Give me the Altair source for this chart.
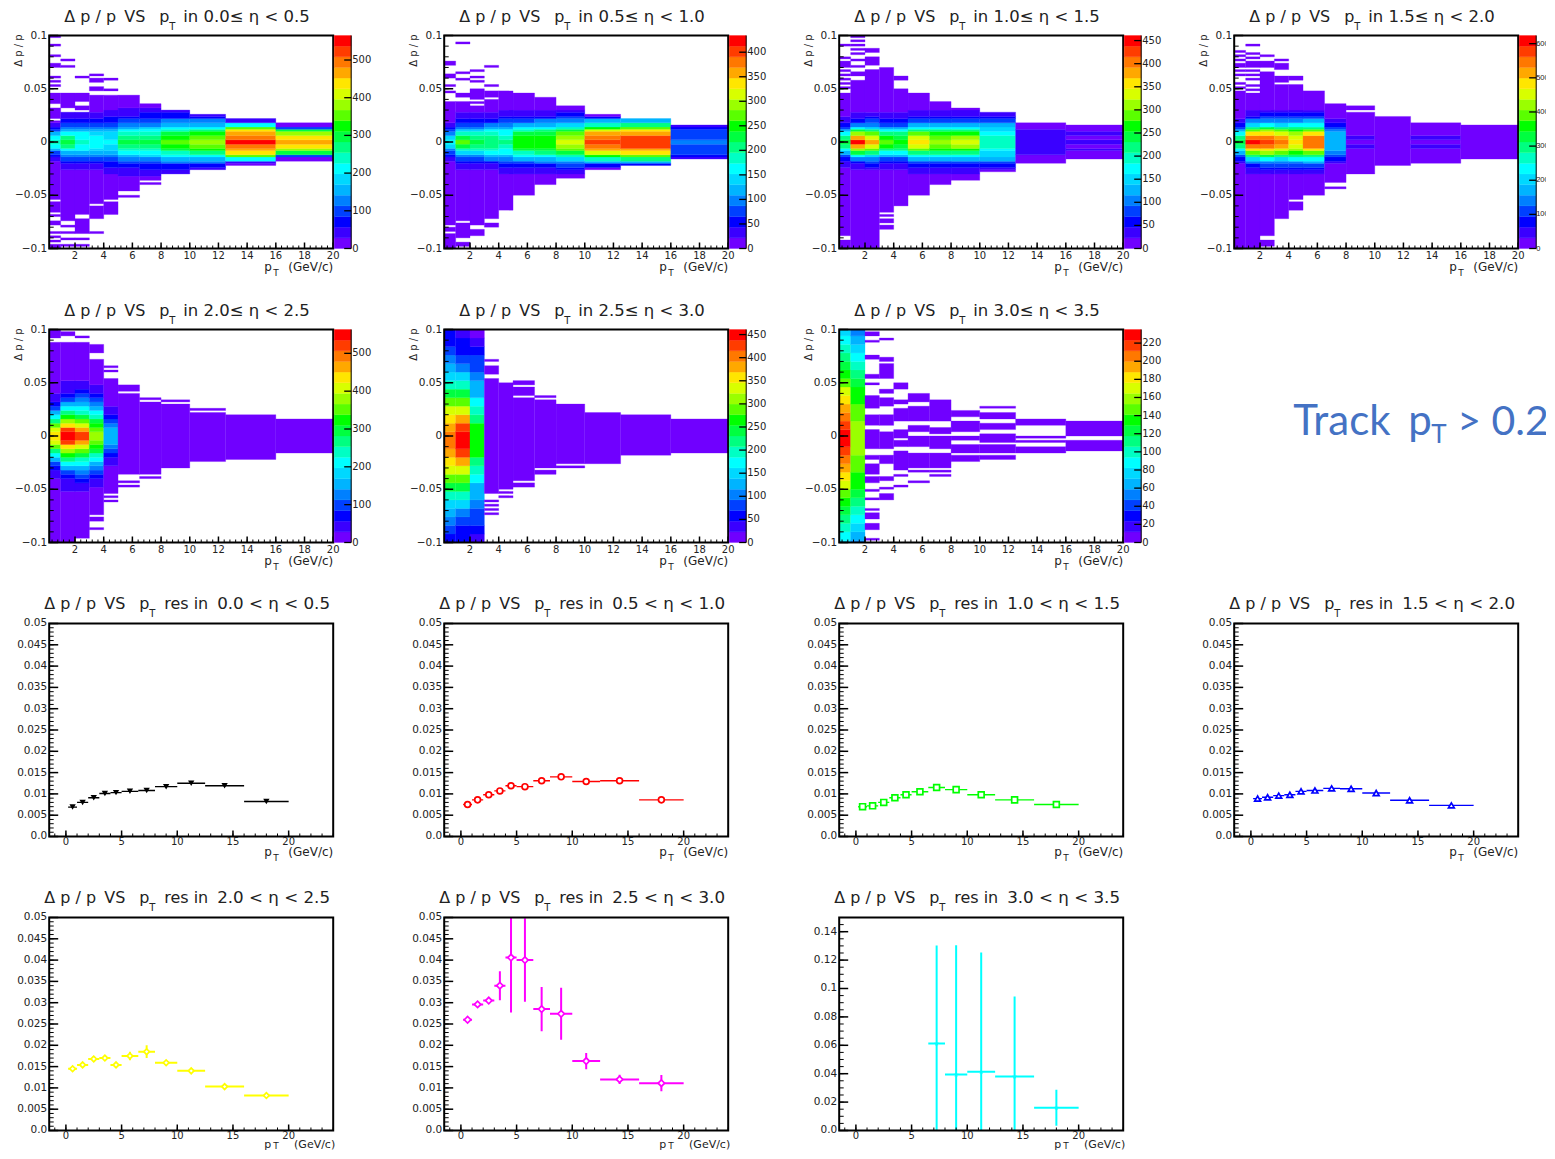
import altair as alt

EDGES = [0.2, 1, 2, 3, 4, 5, 6.5, 8, 10, 12.5, 16, 20]
CENTERS = [0.6, 1.5, 2.5, 3.5, 4.5, 5.75, 7.25, 9, 11.25, 14.25, 18]
PALETTE = ["#7000ff", "#3a00ff", "#0000ff", "#0040ff", "#0080ff", "#00b4ff", "#00d8ff", "#00ffff",
           "#00ffc4", "#00ff80", "#00ff40", "#00ff00", "#5aff00", "#9aff00", "#d8ff00", "#ffe600",
           "#ffa800", "#ff7800", "#ff3c00", "#ff0000"]
RANGES = ["0.0", "0.5", "1.0", "1.5", "2.0", "2.5", "3.0", "3.5"]

# colour level read per pT column, outward from the core; top / bottom of the filled region,
# isolated strips and empty strips
CORE_1 = [[8,7,5,3,2,1],[10,9,7,5,4,3,2,1,1],[8,7,7,5,4,3,2,1,1],[7,7,6,5,4,3,2,1,1],[7,6,6,5,4,3,2,2,1,1],
          [10,9,8,7,5,4,3,2,1,1,1],[10,9,8,7,6,4,3,2,2,1,1],[12,11,10,8,7,5,4,2,2,1],[13,12,11,9,7,5,4,2,1],
          [19,17,16,15,12,7,1],[16,15,13,10,3]]
TOP_1 = [.045,.045,.046,.052,.05,.044,.036,.03,.025,.022,.017]
BOT_1 = [-.066,-.075,-.086,-.072,-.067,-.053,-.041,-.034,-.027,-.023,-.018]
OUT_1 = [[.098,.09,.08,.072,.061,.057,.052,-.07,-.075,-.078,-.085,-.09,-.093,-.097,-.099],
         [.076,.071,-.08,-.085,-.092,-.098],[.061,-.092,-.098],[.062,.059,.056,-.086],[.058],[],[],[],[],[],[]]
GAP_1 = [[[.035,.034],[.02,.02],[-.055,-.056]],[[.03,.03]],[[.037,.035],[.029,.028],[-.07,-.07]],[[.047,.046],[-.06,-.06]],
         [[.047,.046],[-.056,-.056]],[[-.048,-.048]],[[-.037,-.037]],[[-.032,-.032]],[],[],[]]

CORE_2 = [[7,6,4,3,2,1],[12,10,8,6,4,3,2,1,1],[10,9,8,6,4,3,2,1,1],[9,9,8,7,5,4,2,1,1],[9,8,7,7,5,4,3,2,1,1],
          [11,11,10,8,7,5,3,2,1,1],[11,11,10,9,7,5,4,2,1,1],[14,13,12,10,8,6,4,3,2,1],[18,17,16,14,11,8,5,2],
          [18,18,16,15,12,9,5,2],[4,3,3,3,2,1]]
TOP_2 = [.039,.039,.049,.048,.047,.046,.038,.034,.026,.022,.016]
BOT_2 = [-.1,-.098,-.089,-.08,-.064,-.049,-.04,-.034,-.027,-.022,-.016]
OUT_2 = [[.075,.073,.063,.06,.053,.047],[.092,.065,.058,.044],[.066,.06,.057],[.071,.053],[],[],[.04],[],[],[],[]]
GAP_2 = [[[-.085,-.085],[-.079,-.079]],[[-.075,-.075],[-.091,-.092]],[[.036,.035],[.04,.04],[-.08,-.08]],[[.041,.041],[-.074,-.075]],
         [],[],[],[],[],[],[]]

CORE_3 = [[10,9,7,5,3,2,1,1],[19,16,13,10,7,4,2,1,1],[16,14,12,9,6,4,3,2,1],[12,11,9,7,5,3,2,1,1],[11,10,9,7,5,3,2,1,1],
          [15,14,12,9,7,5,3,2,1,1],[13,12,11,9,7,5,3,2,1,1],[14,13,11,9,7,5,3,2,1,1],[8,8,7,6,6,5,3,2,1],
          [1,1,1,1],[1,0,1]]
TOP_3 = [.052,.078,.08,.069,.05,.046,.038,.032,.027,.018,.016]
BOT_3 = [-.1,-.1,-.1,-.081,-.061,-.05,-.04,-.035,-.028,-.021,-.016]
OUT_3 = [[.09,.078,.075,.072,.066,.063,.058,.055],[.098,.095,.09,.086,.082],[.087,.084],[],[.06,.058],[],[],[],[],[],[]]
GAP_3 = [[[.048,.047],[-.089,-.09]],[[.075,.074],[.068,.067],[.06,.059]],[[.07,.07]],[[-.067,-.067],[-.072,-.072],[-.077,-.077]],
         [],[],[],[],[],[],[]]

CORE_4 = [[10,9,7,5,3,2,1],[19,17,15,12,9,6,4,2,1,1],[18,17,15,13,10,7,4,3,2,1],[17,16,14,12,9,6,4,3,2,1],
          [15,14,13,11,9,7,4,3,2,1],[17,17,15,12,9,7,5,3,2,1],[5,5,5,4,3,2,1],[0,1],[0],[0,1],[0]]
TOP_4 = [.048,.045,.066,.062,.053,.042,.036,.027,.023,.018,.015]
BOT_4 = [-.1,-.1,-.098,-.072,-.064,-.05,-.038,-.028,-.023,-.021,-.015]
OUT_4 = [[.085,.08,.077,.073,.07,.066,.062,.055,.05],[.09,.082,.078,.074,.07,.066,.062,.058,.052,.049],[.08,.075,.072],[.076,.072,.068],
         [.061,.058],[.047,.044],[-.043],[.033,.031,-.03],[],[],[]]
GAP_4 = [[],[],[[-.09,-.09]],[[.055,.055]],[[-.056,-.056]],[],[],[],[],[],[]]

CORE_5 = [[15,14,12,9,7,5,3,2,1,1],[19,18,15,13,11,9,7,5,3,2,1,1,1],[18,16,14,12,10,8,7,5,4,3,2,1,1],
          [13,12,11,10,8,7,5,4,3,2,1,1],[5,5,4,3,2,1,1],[0],[0],[0],[0],[0],[0]]
TOP_5 = [.1,.097,.087,.072,.053,.04,.032,.029,.022,.019,.016]
BOT_5 = [-.1,-.1,-.096,-.074,-.055,-.037,-.035,-.029,-.025,-.022,-.015]
OUT_5 = [[],[],[.093],[.085,.082,.08,.078,-.077,-.079,-.088],[.064,.06,-.058,-.061],[.046,.044,-.044,-.048],[.034,-.039],
         [.032],[.025],[],[]]
GAP_5 = [[[.09,.09]],[[.092,.09]],[],[],[],[],[],[],[],[],[]]

CORE_6 = [[17,16,15,14,12,10,8,6,5,4,3,2,2],[19,18,16,14,12,10,8,6,4,3,2,2,1],[11,11,9,8,7,5,5,4,3,3,2,1],
          [0],[0],[0],[0],[0],[0],[0],[0]]
TOP_6 = [.1,.1,.1,.065,.049,.04,.038,.03,.022,.02,.015]
BOT_6 = [-.1,-.1,-.1,-.055,-.05,-.043,-.035,-.03,-.026,-.019,-.015]
OUT_6 = [[],[],[],[.071,-.062,-.066,-.07,-.074],[-.053,-.057],[.05,.048,.044,.042,-.045,-.048],[],[],[],[],[]]
GAP_6 = [[],[],[],[[.056,.055]],[],[[.037,.037]],[[.036,.035],[-.031,-.031]],[[-.027,-.027]],[],[],[]]

CORE_7 = [[19,18,17,16,15,14,12,11,10,9,8,7,6],[13,13,12,12,11,11,10,9,8,7,6,5,4],[0],[0],[0],[0],[0],[0],[0],[0],[0]]
TOP_7 = [.1,.1,.098,.067,.049,.04,.034,.023,.021,.016,.014]
BOT_7 = [-.1,-.1,-.097,-.061,-.032,-.03,-.029,-.025,-.022,-.016,-.014]
OUT_7 = [[],[],[],[.091,.072],[.044,-.038,-.047],[-.034,-.043],[-.033,-.038],[],[.027],[],[]]
GAP_7 = [[],[],
         [[.093,.092],[.087,.08],[.078,.077],[.07,.065],[.062,.06],[.053,.051],[.047,.044],[.041,.039],[.024,.021],[.009,.006],
          [-.013,-.018],[-.024,-.026],[-.037,-.038],[-.046,-.049],[-.054,-.057],[-.062,-.067],[-.071,-.072],[-.079,-.08],[-.089,-.094]],
         [[.052,.046],[.04,.037],[.026,.02],[.008,.005],[-.014,-.016],[-.027,-.037],[-.044,-.046],[-.051,-.053]],
         [[.043,.035],[.029,.027],[.013,.007],[-.003,-.004],[-.012,-.013]],
         [[.03,.029],[.012,.01],[.003,.002],[-.012,-.014]],
         [[.012,.008],[.002,.001],[-.013,-.015]],
         [[.016,.015],[.003,.002],[-.005,-.007],[-.017,-.018]],
         [[.014,.013],[.005,.004],[-.007,-.008],[-.017,-.018]],
         [[.008,.002],[-.003,-.004],[-.008,-.009]],
         [[-.002,-.003]]]

ZMAX = [565, 434, 461, 624, 563, 461, 235]
ZSTEP = [100, 50, 50, 100, 100, 50, 20]
BAND = [.003, .003, .003, .003, .004, .008, .008]
MID = [0, 0, 0, 0, 0, -.004, -.002]
CORES = [CORE_1, CORE_2, CORE_3, CORE_4, CORE_5, CORE_6, CORE_7]
TOPS = [TOP_1, TOP_2, TOP_3, TOP_4, TOP_5, TOP_6, TOP_7]
BOTS = [BOT_1, BOT_2, BOT_3, BOT_4, BOT_5, BOT_6, BOT_7]
OUTS = [OUT_1, OUT_2, OUT_3, OUT_4, OUT_5, OUT_6, OUT_7]
GAPS = [GAP_1, GAP_2, GAP_3, GAP_4, GAP_5, GAP_6, GAP_7]

RES_A = [.0069, .0080, .0091, .0101, .0103, .0106, .0108, .0117, .0125, .0119, .0082]
RES_B = [.0075, .0086, .0098, .0107, .0119, .0117, .0131, .014, .0129, .0131, .0086]
RES_C = [.007, .0072, .008, .0091, .0098, .0105, .0115, .011, .0098, .0086, .0075]
RES_D = [.0089, .0092, .0096, .0098, .0106, .0108, .0113, .0112, .0102, .0085, .0073]
RES_E = [.0145, .0154, .0168, .017, .0154, .0175, .0185, .0159, .014, .0103, .0082]
RES_F = [.026, .0296, .0305, .034, .0406, .04, .0285, .0274, .0163, .012, .0111]
RES_G = [None, None, None, None, None, None, .0612, .0394, .0413, .038, .016]
ERR_A = [.0002] * 11
ERR_B = [.0002] * 11
ERR_C = [.0002] * 11
ERR_D = [.0002, .0002, .0002, .0002, .0002, .0003, .0003, .0003, .0003, .0003, .0003]
ERR_E = [.0004, .0004, .0006, .0006, .0006, .001, .0015, .0006, .0005, .0005, .0004]
ERR_F = [.0004, .0005, .0005, .0034, .0129, .0098, .0052, .0061, .0019, .0011, .0019]
ERR_G = [0, 0, 0, 0, 0, 0, .069, .091, .084, .0563, .0127]
STAR = "M0,-1L.24,-.33L.95,-.31L.38,.12L.59,.81L0,.4L-.59,.81L-.38,.12L-.95,-.31L-.24,-.33Z"
RES = [
    (RES_A, ERR_A, "#000000", "triangle-down", True, 40),
    (RES_B, ERR_B, "#ff0000", "circle", False, 34),
    (RES_C, ERR_C, "#00ff00", "square", False, 34),
    (RES_D, ERR_D, "#0000ff", "triangle-up", False, 34),
    (RES_E, ERR_E, "#ffff00", "diamond", False, 32),
    (RES_F, ERR_F, "#ff00ff", "diamond", False, 42),
    (RES_G, ERR_G, "#00ffff", STAR, True, 30),
]

W, H, BAR_CELL = 284, 213, 111
FONT = "DejaVu Sans"
SMALL = "Liberation Sans"
INK = "#222222"


def label(txt, x, y, size, align="left", angle=0, color=INK, font=FONT):
    return alt.Chart(alt.Data(values=[{"t": txt}])).mark_text(
        align=align, baseline="alphabetic", fontSize=size, font=font, color=color, angle=angle
    ).encode(x=alt.value(x), y=alt.value(y), text="t:N")


def frame(stroke=2, w=W, x0=0):
    return alt.Chart(alt.Data(values=[{}])).mark_rect(filled=False, stroke="black", strokeWidth=stroke).encode(
        x=alt.value(x0), x2=alt.value(w), y=alt.value(0), y2=alt.value(H))


def x_ticks(vals, length, scale, width=1.0):
    return alt.Chart(alt.Data(values=[{"v": v} for v in vals])).mark_rule(color="black", strokeWidth=width).encode(
        x=alt.X("v:Q", scale=scale, axis=None), y=alt.value(H), y2=alt.value(H - length))


def y_ticks(vals, length, scale, width=1.0):
    return alt.Chart(alt.Data(values=[{"v": v} for v in vals])).mark_rule(color="black", strokeWidth=width).encode(
        y=alt.Y("v:Q", scale=scale, axis=None), x=alt.value(0), x2=alt.value(length))


def fmt(v):
    return str(v).replace("-", "\u2212")


def x_labels(vals, scale, dy):
    return alt.Chart(alt.Data(values=[{"v": v, "t": fmt(v)} for v in vals])).mark_text(
        align="center", baseline="middle", fontSize=10, font=FONT, color=INK).encode(
        x=alt.X("v:Q", scale=scale, axis=None), y=alt.value(H + dy), text="t:N")


def y_labels(vals, scale):
    return alt.Chart(alt.Data(values=[{"v": v, "t": fmt(v)} for v in vals])).mark_text(
        align="right", baseline="middle", fontSize=10.5, font=FONT, color=INK).encode(
        y=alt.Y("v:Q", scale=scale, axis=None), x=alt.value(-2), text="t:N")


def xtitle(dy, sub=5, size=12, right=W):
    return [label("p", 215, H + dy, size), label("T", 224, H + dy + sub, 9), label("(GeV/c)", right, H + dy, size, align="right")]


def heat_title(i):
    rng = f"in {RANGES[i]}≤ η < {RANGES[i + 1]}"
    return [label("Δ p / p", 15, -14, 16), label("VS", 75, -14, 16), label("p", 110, -14, 16), label("T", 120, -6, 10),
            label(rng, 134, -14, 16.5)]


def res_title(i):
    return [label("Δ p / p", -5, -14, 16), label("VS", 55, -14, 16), label("p", 90, -14, 16), label("T", 100, -6, 10),
            label("res in", 115, -14, 16), label(f"{RANGES[i]} < η < {RANGES[i + 1]}", 168, -14, 16.7)]


def heat_cells(i):
    recs = []
    z, band, mid = ZMAX[i], BAND[i], MID[i]
    for c in range(11):
        gaps, outs = GAPS[i][c], OUTS[i][c]
        run = None
        for b in range(100):
            lo, hi = -.1 + b * .002, -.1 + (b + 1) * .002
            ctr = (lo + hi) / 2
            on = BOTS[i][c] <= ctr <= TOPS[i][c] or any(lo - 1e-9 <= o < hi for o in outs)
            if any(g[1] - .001 <= ctr <= g[0] + .001 for g in gaps):
                on = False
            lvl = None
            if on:
                k = int(abs(ctr - mid) / band)
                lvl = CORES[i][c][k] if k < len(CORES[i][c]) else 0
            if run and run["l"] == lvl:
                run["y2"] = hi
            else:
                if run and run["l"] is not None:
                    recs.append(run)
                run = {"x": EDGES[c], "x2": EDGES[c + 1], "y": lo, "y2": hi, "l": lvl, "v": 0 if lvl is None else (lvl + .5) * z / 20}
        if run and run["l"] is not None:
            recs.append(run)
    return recs


def heat_panel(i):
    xs = alt.Scale(domain=[.2, 20], nice=False, zero=False)
    ys = alt.Scale(domain=[-.1, .1], nice=False, zero=False)
    cs = alt.Scale(type="quantize", domain=[0, ZMAX[i]], range=PALETTE)
    xm = list(range(2, 21, 2))
    ym = [-.1, -.05, 0, .05, .1]
    rect = alt.Chart(alt.Data(values=heat_cells(i))).mark_rect(strokeWidth=.3).encode(
        x=alt.X("x:Q", scale=xs, axis=None),
        x2="x2:Q",
        y=alt.Y("y:Q", scale=ys, axis=None),
        y2="y2:Q",
        color=alt.Color("v:Q", scale=cs, legend=None),
        stroke=alt.Stroke("v:Q", scale=cs, legend=None),
    )
    layers = [rect, frame(),
              x_ticks([round(.4 * k, 1) for k in range(1, 50)], 3, xs),
              x_ticks(xm, 6, xs, 1.5),
              y_ticks([round(-.1 + .01 * k, 2) for k in range(21)], 4.5, ys),
              y_ticks(ym, 9, ys, 1.5),
              x_labels(xm, xs, 7), y_labels(ym, ys),
              label("Δ p / p", -27, 15, 10, align="center", angle=270)]
    layers += heat_title(i) + xtitle(22.5)
    return alt.layer(*layers).properties(width=W, height=H)


def bar_panel(i, cell, font=FONT, size=10, tx=19):
    z, step = ZMAX[i], ZSTEP[i]
    ys = alt.Scale(domain=[0, z], nice=False, zero=False)
    cs = alt.Scale(type="quantize", domain=[0, z], range=PALETTE)
    seg = [{"y": k * z / 20, "y2": (k + 1) * z / 20, "v": (k + .5) * z / 20} for k in range(20)]
    vals = list(range(0, z + 1, step))
    bar = alt.Chart(alt.Data(values=seg)).mark_rect(strokeWidth=.3).encode(
        x=alt.value(1), x2=alt.value(18),
        y=alt.Y("y:Q", scale=ys, axis=None), y2="y2:Q",
        color=alt.Color("v:Q", scale=cs, legend=None),
        stroke=alt.Stroke("v:Q", scale=cs, legend=None))
    ticks = alt.Chart(alt.Data(values=[{"v": v} for v in vals])).mark_rule(color="black", strokeWidth=1.3).encode(
        y=alt.Y("v:Q", scale=ys, axis=None), x=alt.value(11), x2=alt.value(18))
    text = alt.Chart(alt.Data(values=[{"v": v, "t": str(v)} for v in vals])).mark_text(
        align="left", baseline="middle", fontSize=size, font=font, color=INK).encode(
        y=alt.Y("v:Q", scale=ys, axis=None), x=alt.value(tx), text="t:N")
    edge = alt.Chart(alt.Data(values=[{}])).mark_rule(color="black", strokeWidth=1).encode(
        x=alt.value(18), y=alt.value(0), y2=alt.value(H))
    return alt.layer(bar, ticks, text, edge).properties(width=cell, height=H)


def res_panel(i):
    vals, errs, color, shape, solid, size = RES[i]
    top = .15 if i == 6 else .05
    xs = alt.Scale(domain=[-1.5, 24], nice=False, zero=False)
    ys = alt.Scale(domain=[0, top], nice=False, zero=False)
    rows = [{"x": CENTERS[k], "lo": EDGES[k], "hi": EDGES[k + 1], "y": vals[k],
             "yl": vals[k] - errs[k], "yh": vals[k] + errs[k]} for k in range(11) if vals[k] is not None]
    data = alt.Data(values=rows)
    width = 2 if i >= 4 else 1.4
    if i == 6:
        majors = [round(.02 * k, 2) for k in range(8)]
        minors = [round(.005 * k, 3) for k in range(31)]
    else:
        majors = [round(.005 * k, 3) for k in range(11)]
        minors = [round(.001 * k, 3) for k in range(51)]
    xm = [0, 5, 10, 15, 20]
    hbar = alt.Chart(data).mark_rule(color=color, strokeWidth=width, clip=True).encode(
        x=alt.X("lo:Q", scale=xs, axis=None), x2="hi:Q",
        y=alt.Y("y:Q", scale=ys, axis=None))
    vbar = alt.Chart(data).mark_rule(color=color, strokeWidth=width, clip=True).encode(
        x=alt.X("x:Q", scale=xs, axis=None),
        y=alt.Y("yl:Q", scale=ys, axis=None), y2="yh:Q")
    if solid:
        mark = alt.Chart(data).mark_point(shape=shape, filled=True, color=color, size=size, opacity=1)
    else:
        mark = alt.Chart(data).mark_point(shape=shape, filled=False, fill="white", fillOpacity=1, stroke=color, strokeWidth=1.7, size=size, opacity=1)
    pts = mark.encode(x=alt.X("x:Q", scale=xs, axis=None), y=alt.Y("y:Q", scale=ys, axis=None))
    layers = [hbar, vbar, pts, frame(),
              x_ticks(list(range(-1, 25)), 3, xs),
              x_ticks(xm, 6, xs, 1.5),
              y_ticks(minors, 4.5, ys),
              y_ticks(majors, 9, ys, 1.5),
              x_labels(xm, xs, 5.5), y_labels(majors, ys)]
    layers += res_title(i) + (xtitle(20) if i < 4 else xtitle(17.5, 1.5, 11, W + 2))
    return alt.layer(*layers).properties(width=W, height=H)


def spacer(w):
    return alt.Chart(alt.Data(values=[{}])).mark_point(opacity=0).encode(x=alt.value(0), y=alt.value(0)).properties(width=w, height=H)


BLUE = "#4472c4"
track = alt.layer(
    label("Track", 59, 105, 42, color=BLUE, font="Lato"),
    label("p", 174, 105, 42, color=BLUE, font="Lato"),
    label("T", 197, 113, 26, color=BLUE, font="Lato"),
    label("> 0.2", 223, 105, 41, color=BLUE, font="Lato"),
).properties(width=W, height=H)

LAST = 18
cells = []
for i in range(4):
    if i == 3:
        cells += [heat_panel(i), bar_panel(i, LAST, SMALL, 7.5, 18)]
    else:
        cells += [heat_panel(i), bar_panel(i, BAR_CELL)]
for i in range(4, 7):
    cells += [heat_panel(i), bar_panel(i, BAR_CELL)]
cells += [track, spacer(LAST)]
for i in range(4):
    cells += [res_panel(i), spacer(LAST if i == 3 else BAR_CELL)]
for i in range(4, 7):
    cells += [res_panel(i), spacer(BAR_CELL)]
cells += [spacer(W), spacer(LAST)]

chart = alt.concat(*cells, columns=8, spacing={"column": 0, "row": 81}, bounds="flush").resolve_scale(
    color="independent", stroke="independent"
).properties(padding={"left": 6.2, "top": 0.5, "right": -3.5, "bottom": -1.5}, background="white").configure_view(strokeWidth=0, stroke=None)

chart.save("out.html", embed_options={"renderer": "svg", "actions": False})
